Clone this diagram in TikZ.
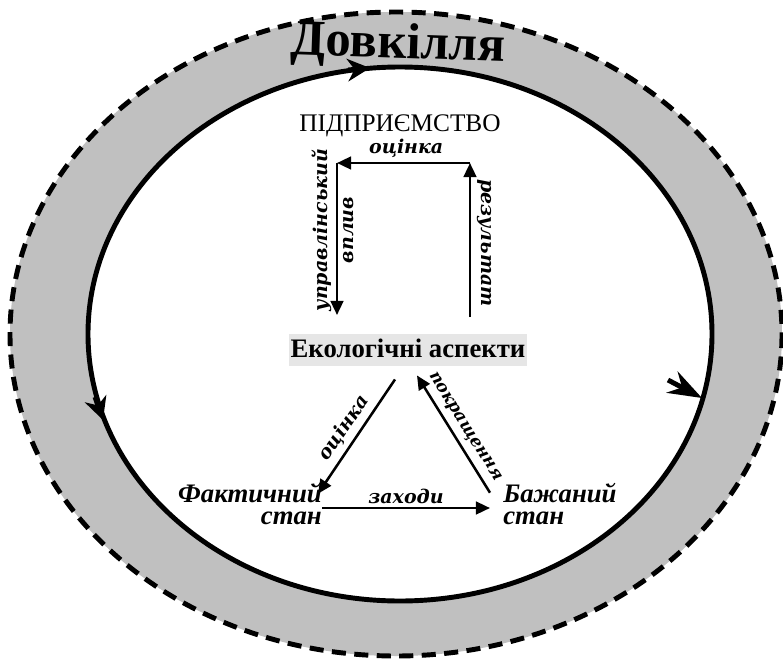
\documentclass[tikz,border=0pt]{standalone}
\usepackage{fontspec}
\setmainfont{Liberation Serif}
\newfontfamily\tagfont{DejaVu Serif}
\usetikzlibrary{arrows.meta,positioning,calc}
\definecolor{ringgray}{RGB}{192,192,192}
\definecolor{boxgray}{RGB}{230,230,230}

\begin{document}
\begin{tikzpicture}[
  x=0.025cm, y=-0.025cm,
  flow/.style={line width=1.8pt,-{Triangle[length=10pt,width=9pt]}},
  tag/.style={font=\tagfont\bfseries\itshape\fontsize{13.5}{18}\selectfont,inner sep=1pt},
  state/.style={font=\bfseries\itshape\fontsize{19}{16}\selectfont,inner sep=0pt},
  ringtip/.style={line width=3.5pt,-{Stealth[length=16pt,width=16pt,inset=5pt]}}
]
  \useasboundingbox (0,0) rectangle (783,658);
  % environment ring
  \fill[ringgray] (396,334) ellipse [x radius=386, y radius=322];
  \draw[line width=3.5pt,dash pattern=on 10pt off 6pt] (396,334) ellipse [x radius=386, y radius=322];
  \filldraw[fill=white,line width=3.5pt] (400,334) ellipse [x radius=312, y radius=267];
  \draw[ringtip] (95,397) -- (103,420);
  \draw[ringtip,-{Stealth[length=24pt,width=17pt,inset=8pt]}] (668,380) -- (702,398);
  \draw[ringtip] (348,70) -- (370,68);
  \node[font=\bfseries\fontsize{36}{36}\selectfont,rotate=-2,inner sep=0pt] (env) at (398,46) {Довкілля};

  % enterprise
  \node[font=\fontsize{18}{18}\selectfont,inner sep=0pt] (firm) at (400,126) {ПІДПРИЄМСТВО};
  \coordinate (rb) at (470,317);
  \coordinate (rt) at (470,163);
  \coordinate (lt) at (337,163);
  \coordinate (lb) at (337,315);
  \draw[flow] (rb) -- (rt);
  \draw[flow] (rt) -- node[tag,above=2pt,pos=0.48] (score1) {оцінка} (lt);
  \draw[flow] (lt) -- (lb);
  \node[tag,rotate=-90] (result) at (484,243) {результат};
  \node[tag,rotate=90,align=center] (ctrl) at (333,230) {управлінський\\вплив};

  % aspects
  \node[fill=boxgray,font=\bfseries\fontsize{19}{19}\selectfont,
    text height=15pt,text depth=4pt,inner xsep=1pt,inner ysep=2pt] (eco) at (408,350) {Екологічні аспекти};
  \node[state,align=right,anchor=east] (fact) at (322,504) {Фактичний\\стан};
  \node[state,align=left,anchor=west] (goal) at (503,504) {Бажаний\\стан};
  \draw[flow] ([shift={(-13,13)}]eco.south) -- node[tag,sloped,above=2pt] (score2) {оцінка} ([shift={(-4,11)}]fact.north east);
  \draw[flow] ([shift={(0,4)}]fact.east) -- node[tag,above=1pt] (steps) {заходи} ([shift={(-13,4)}]goal.west);
  \draw[flow] ([shift={(-13,10)}]goal.north west) -- node[tag,sloped,above=3pt,pos=0.5,font=\tagfont\bfseries\itshape\fontsize{12}{12}\selectfont] (better) {покращення} ([shift={(9,9)}]eco.south);
\end{tikzpicture}
\end{document}
